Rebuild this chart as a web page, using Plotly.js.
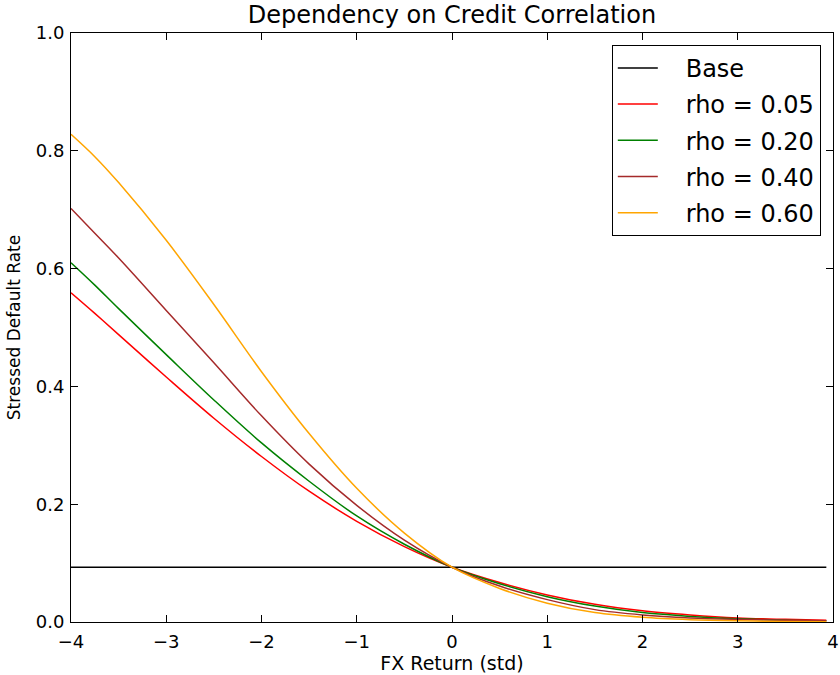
<!DOCTYPE html>
<html>
<head>
<meta charset="utf-8">
<script src="https://cdn.plot.ly/plotly-3.0.1.min.js"></script>
<style>
  html, body { margin: 0; padding: 0; background: #fff; }
  #chart { width: 840px; height: 675px; }
</style>
</head>
<body>
<div id="chart"></div>
<script>
// FX return (std) sample points
const fxReturn = [-4, -3.75, -3.5, -3, -2.5, -2, -1.5, -1, -0.5, 0, 0.5, 1, 1.5, 2, 2.5, 3, 3.5, 3.93];

// Base default rate (flat)
const baseRate = 0.093;

// Stressed default rate per correlation
const rho005 = [0.559, 0.524, 0.488, 0.416, 0.346, 0.281, 0.222, 0.171, 0.128, 0.093, 0.067, 0.046, 0.030, 0.019, 0.012, 0.007, 0.0045, 0.003];
const rho020 = [0.610, 0.572, 0.532, 0.454, 0.377, 0.304, 0.239, 0.180, 0.132, 0.093, 0.065, 0.043, 0.027, 0.016, 0.0095, 0.0055, 0.003, 0.002];
const rho040 = [0.702, 0.660, 0.618, 0.529, 0.440, 0.350, 0.268, 0.198, 0.139, 0.093, 0.061, 0.038, 0.021, 0.012, 0.007, 0.0045, 0.003, 0.002];
const rho060 = [0.828, 0.790, 0.746, 0.648, 0.539, 0.425, 0.320, 0.227, 0.151, 0.093, 0.057, 0.032, 0.016, 0.008, 0.004, 0.002, 0.001, 0.0005];

const seriesNames = ['Base', 'rho = 0.05', 'rho = 0.20', 'rho = 0.40', 'rho = 0.60'];
const seriesColors = ['#000000', '#ff0000', '#008000', '#a52a2a', '#ffa500'];

const xTicks = [-4, -3, -2, -1, 0, 1, 2, 3, 4];
const yTicks = [0.0, 0.2, 0.4, 0.6, 0.8, 1.0];

const FONT = 'DejaVu Sans, Verdana, sans-serif';
const PAD = '\u00a0\u00a0\u00a0';

const baseSeries = fxReturn.map(() => baseRate);
const allSeries = [baseSeries, rho005, rho020, rho040, rho060];

const traces = allSeries.map((ys, i) => ({
  type: 'scatter',
  mode: 'lines',
  x: fxReturn,
  y: ys,
  name: PAD + seriesNames[i],
  legendgroup: 'g' + i,
  line: { color: seriesColors[i], width: 1.5, shape: i === 0 ? 'linear' : 'spline', smoothing: 1 },
  hoverinfo: 'x+y+name'
}));

const axisCommon = {
  showgrid: false,
  zeroline: false,
  showline: true,
  linecolor: '#000',
  linewidth: 1,
  mirror: 'ticks',
  ticks: 'inside',
  ticklen: 7,
  tickwidth: 1,
  tickcolor: '#000',
  tickfont: { family: FONT, size: 18, color: '#000' }
};

const layout = {
  width: 840,
  height: 675,
  paper_bgcolor: '#fff',
  plot_bgcolor: '#fff',
  margin: { l: 71, r: 7, t: 33, b: 53 },
  title: {
    text: 'Dependency on Credit Correlation',
    font: { family: FONT, size: 24, color: '#000' },
    xref: 'paper', x: 0.5, xanchor: 'center',
    yref: 'container', y: 1 - 15 / 675, yanchor: 'middle'
  },
  xaxis: Object.assign({}, axisCommon, {
    range: [-4, 4],
    tickvals: xTicks,
    ticktext: xTicks.map(v => (v < 0 ? '\u2212' + Math.abs(v) : String(v))),
    ticklabelstandoff: 3,
    title: { text: 'FX Return (std)', font: { family: FONT, size: 19, color: '#000' }, standoff: 3 }
  }),
  yaxis: Object.assign({}, axisCommon, {
    range: [0, 1],
    tickvals: yTicks,
    ticktext: yTicks.map(v => v.toFixed(1)),
    ticklabelstandoff: 2,
    title: { text: 'Stressed Default Rate', font: { family: FONT, size: 17, color: '#000' }, standoff: 10 }
  }),
  legend: {
    x: 0.984, y: 0.980, xanchor: 'right', yanchor: 'top',
    bgcolor: '#fff',
    bordercolor: '#000',
    borderwidth: 1,
    font: { family: FONT, size: 24, color: '#000' },
    tracegroupgap: 2,
    itemwidth: 40
  },
  showlegend: true
};

Plotly.newPlot('chart', traces, layout, { displayModeBar: false, staticPlot: false });
</script>
</body>
</html>
